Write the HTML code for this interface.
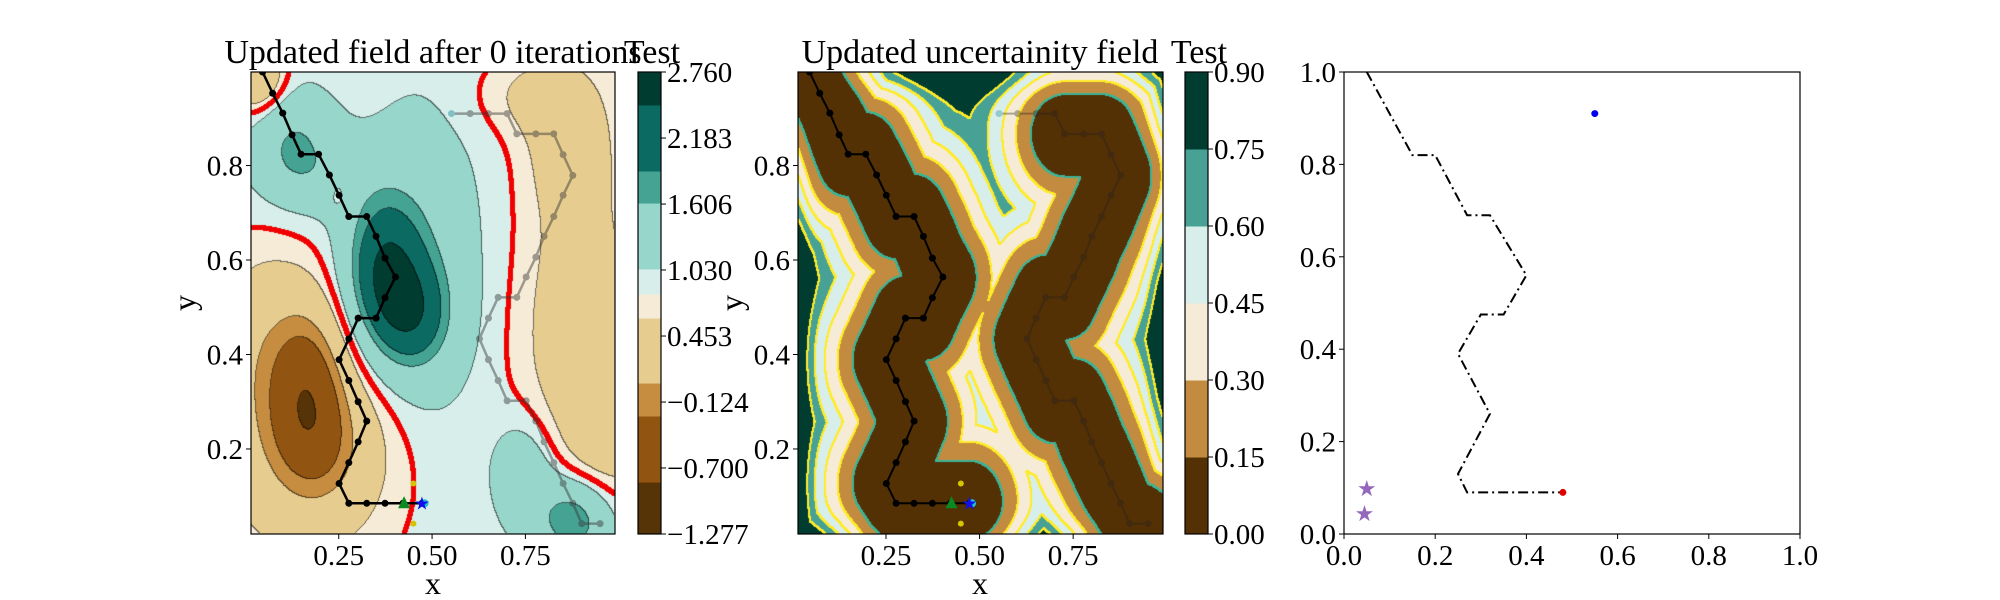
<!DOCTYPE html>
<html><head><meta charset="utf-8">
<style>
html,body{margin:0;padding:0;background:#fff;}
#wrap{position:relative;width:2000px;height:600px;overflow:hidden;font-family:"Liberation Serif",serif;}
canvas{position:absolute;}
svg{position:absolute;left:0;top:0;}
</style></head>
<body>
<div id="wrap">
<canvas id="c1" width="364" height="462" style="left:251px;top:72px"></canvas>
<canvas id="c2" width="365" height="462" style="left:798px;top:72px"></canvas>
<svg id="ov" width="2000" height="600"></svg>
</div>
<script>
// ---- data ----
const path1X=[0.046,0.073,0.100,0.125,0.149,0.196,0.225,0.251,0.277,0.325,0.350,0.374,0.402,0.374,0.350,0.302,0.277,0.251,0.277,0.302,0.325,0.302,0.277,0.251,0.277,0.325,0.374,0.422,0.473];
const path1Y=[0.998,0.953,0.911,0.865,0.824,0.824,0.780,0.737,0.692,0.692,0.650,0.604,0.564,0.520,0.477,0.477,0.433,0.389,0.345,0.300,0.259,0.215,0.171,0.127,0.085,0.085,0.085,0.085,0.085];
const path2X=[0.552,0.602,0.651,0.701,0.727,0.778,0.826,0.851,0.877,0.851,0.826,0.800,0.778,0.752,0.727,0.677,0.651,0.627,0.651,0.677,0.701,0.752,0.778,0.800,0.826,0.851,0.877,0.901,0.950];
const path2Y=[0.910,0.910,0.910,0.910,0.867,0.867,0.867,0.823,0.779,0.737,0.692,0.650,0.606,0.564,0.521,0.521,0.477,0.433,0.389,0.345,0.302,0.302,0.259,0.215,0.171,0.127,0.085,0.042,0.042];
const p3Vx=[0.05,0.15,0.20,0.27,0.32,0.40,0.35,0.30,0.25,0.32,0.25,0.27,0.48];
const p3Vy=[1.00,0.82,0.82,0.69,0.69,0.56,0.475,0.475,0.39,0.26,0.13,0.09,0.09];
const starX=[0.05,0.045];
const starY=[0.10,0.045];
const bumpX=[0.37,0.45,0.47,0.17,0.20,0.05,0.15,0.13,0.19,0.90,0.87,0.75,0.98,0.88,0.75,0.03,0.25];
const bumpY=[0.58,0.48,0.58,0.34,0.20,0.42,0.20,0.85,0.78,0.45,0.86,0.95,0.25,0.05,0.15,0.99,0.74];
const bumpA=[1.3,0.9,0.5,-0.9,-0.6,-0.5,-0.5,0.6,0.35,-0.6,-0.5,-0.3,-0.4,1.0,0.45,-0.9,-0.35];
const bumpSx=[0.07,0.07,0.10,0.07,0.10,0.10,0.20,0.07,0.10,0.12,0.09,0.10,0.08,0.07,0.06,0.05,0.018];
const bumpSy=[0.11,0.08,0.20,0.12,0.10,0.15,0.20,0.07,0.06,0.22,0.12,0.06,0.12,0.06,0.08,0.05,0.025];
const levels1=[-1.277,-0.823,-0.246,0.042,0.610,0.820,1.039,1.615,1.895,2.472,2.760];
const colors1=['#573308','#925511','#c68c3f','#e6cc8f','#f6ebd6','#d7eeea','#97d6cb','#45a394','#0b6b63','#003c30'];
const ticks1=[-1.277,-0.700,-0.124,0.453,1.030,1.606,2.183,2.760];
const levels2=[0,0.15,0.30,0.45,0.60,0.75,0.90];
const colors2=['#543005','#c28b3f','#f6ebd6','#d8eeea','#47a295','#003c30'];
const ticks2=[0,0.15,0.30,0.45,0.60,0.75,0.90];
const xt12=[0.25,0.50,0.75];
const yt12=[0.2,0.4,0.6,0.8];
const t3=[0,0.2,0.4,0.6,0.8,1.0];

const P1={x0:251,y0:72,w:364,h:462,xmin:0.015,xmax:0.99,ymin:0.02,ymax:0.998};
const P2={x0:798,y0:72,w:365,h:462,xmin:0.015,xmax:0.99,ymin:0.02,ymax:0.998};
const P3={x0:1344,y0:72,w:456,h:462,xmin:0,xmax:1,ymin:0,ymax:1};
const sx=(P,v)=>P.x0+(v-P.xmin)/(P.xmax-P.xmin)*P.w;
const sy=(P,v)=>P.y0+P.h-(v-P.ymin)/(P.ymax-P.ymin)*P.h;

function f1(x,y){let v=0.95;for(let i=0;i<bumpX.length;i++){const dx=(x-bumpX[i])/bumpSx[i],dy=(y-bumpY[i])/bumpSy[i];v+=bumpA[i]*Math.exp(-0.5*(dx*dx+dy*dy));}return v;}
function segD(px,py,ax,ay,bx,by){const vx=bx-ax,vy=by-ay;let t=((px-ax)*vx+(py-ay)*vy)/(vx*vx+vy*vy||1);t=Math.max(0,Math.min(1,t));const dx=px-ax-t*vx,dy=py-ay-t*vy;return Math.sqrt(dx*dx+dy*dy);}
function kf(d){return 1-Math.exp(-Math.pow(d/0.197,2.18));}
function f2(x,y){let d=1e9;for(let i=0;i<path1X.length-1;i++)d=Math.min(d,segD(x,y,path1X[i],path1Y[i],path1X[i+1],path1Y[i+1]));
for(let i=4;i<path2X.length-1;i++)d=Math.min(d,segD(x,y,path2X[i],path2Y[i],path2X[i+1],path2Y[i+1]));
const de=Math.max(0,Math.min(x,1-x,y,1-y));const fac=1+0.4*Math.exp(-Math.pow(de/0.05,2));
return 0.9*Math.min(1,kf(d)*fac);}
function hex(c){return [parseInt(c.slice(1,3),16),parseInt(c.slice(3,5),16),parseInt(c.slice(5,7),16)];}
function band(v,lev){let b=0;for(let i=1;i<lev.length-1;i++)if(v>=lev[i])b=i;return b;}

function render(id,P,f,lev,cols,lineCol,redLev){
 const c=document.getElementById(id),ctx=c.getContext('2d');const W=c.width,H=c.height;
 const img=ctx.createImageData(W,H);const vals=new Float32Array(W*H),bd=new Int8Array(W*H);
 for(let py=0;py<H;py++)for(let px=0;px<W;px++){const x=P.xmin+(px+0.5)/W*(P.xmax-P.xmin),y=P.ymax-(py+0.5)/H*(P.ymax-P.ymin);const v=f(x,y);vals[py*W+px]=v;bd[py*W+px]=band(v,lev);}
 const rgb=cols.map(hex);
 for(let i=0;i<W*H;i++){const k=rgb[bd[i]];img.data[i*4]=k[0];img.data[i*4+1]=k[1];img.data[i*4+2]=k[2];img.data[i*4+3]=255;}
 for(let py=0;py<H-1;py++)for(let px=0;px<W-1;px++){const i=py*W+px;const b=bd[i],br=bd[i+1],bb=bd[i+W];
  if(b!==br||b!==bb){const lv=Math.max(b,br,bb);const lc=lineCol(lv);const thick=lc[3];
   for(let oy=0;oy<thick;oy++)for(let ox=0;ox<thick;ox++){const j=(py+oy)*W+px+ox;if(py+oy>=H||px+ox>=W)continue;const a=lc[4];
    img.data[j*4]=img.data[j*4]*(1-a)+lc[0]*a;img.data[j*4+1]=img.data[j*4+1]*(1-a)+lc[1]*a;img.data[j*4+2]=img.data[j*4+2]*(1-a)+lc[2]*a;}}}
 if(redLev!==null){const s=i=>vals[i]>redLev;
  for(let py=0;py<H-1;py++)for(let px=0;px<W-1;px++){const i=py*W+px;if(s(i)!==s(i+1)||s(i)!==s(i+W)){
   for(let oy=-2;oy<=2;oy++)for(let ox=-2;ox<=2;ox++){const yy=py+oy,xx=px+ox;if(yy<0||xx<0||yy>=H||xx>=W||ox*ox+oy*oy>5)continue;const j=yy*W+xx;img.data[j*4]=240;img.data[j*4+1]=0;img.data[j*4+2]=0;}}}}
 ctx.putImageData(img,0,0);
}
render('c1',P1,f1,levels1,colors1,()=>[0,0,0,1,0.55],0.82);
render('c2',P2,f2,levels2,colors2,lv=>lv===1?[60,180,150,2,1]:[255,235,40,2,1],null);

// ---- overlay ----
const NS='http://www.w3.org/2000/svg';const ov=document.getElementById('ov');
function mk(tag,attrs,parent){const e=document.createElementNS(NS,tag);for(const k in attrs)e.setAttribute(k,attrs[k]);(parent||ov).appendChild(e);return e;}
function txt(x,y,s,size,anchor,name,rot){const e=mk('text',{x:x,y:y,'font-size':size,'text-anchor':anchor,'font-family':'Liberation Serif, serif',fill:'#000'});if(rot)e.setAttribute('transform','rotate(-90 '+x+' '+y+')');e.textContent=s;


return e;}
function fmt(v,d){return (v<0?'\u2212':'')+Math.abs(v).toFixed(d);}

function axes(P,xt,yt,xd,yd,pfx){
 const r=mk('rect',{x:P.x0,y:P.y0,width:P.w,height:P.h,fill:'none',stroke:'#000','stroke-width':1.2});
 
 
 xt.forEach(v=>{const X=sx(P,v);mk('line',{x1:X,x2:X,y1:P.y0+P.h,y2:P.y0+P.h+5,stroke:'#000'});txt(X,P.y0+P.h+31,v.toFixed(xd),29,'middle',pfx+'-x-tick-label');});
 yt.forEach(v=>{const Y=sy(P,v);mk('line',{x1:P.x0-5,x2:P.x0,y1:Y,y2:Y,stroke:'#000'});txt(P.x0-8,Y+10,v.toFixed(yd),29,'end',pfx+'-y-tick-label');});
}
function clipFor(P,id){const d=mk('clipPath',{id:id});mk('rect',{x:P.x0,y:P.y0,width:P.w,height:P.h},d);return 'url(#'+id+')';}
function drawPath(P,X,Y,col,op,lw,r,name,clip,firstCol){
 const g=mk('g',{opacity:op,'clip-path':clip});
 
 
 const pts=X.map((x,i)=>sx(P,x)+','+sy(P,Y[i])).join(' ');
 mk('polyline',{points:pts,fill:'none',stroke:col,'stroke-width':lw},g);
 X.forEach((x,i)=>{mk('circle',{cx:sx(P,x),cy:sy(P,Y[i]),r:r,fill:(i===0&&firstCol)?firstCol:col},g);});
}
const cl1=clipFor(P1,'cp1'),cl2=clipFor(P2,'cp2');
drawPath(P1,path2X,path2Y,'#333',0.45,2.5,3.5,'path-2-field',cl1,'#1a8a9a');
drawPath(P1,path1X,path1Y,'#000',1,2.5,3.5,'path-1-field',cl1);
drawPath(P2,path2X,path2Y,'#222',0.35,2,3.5,'path-2-uncertainty',cl2,'#1a8a9a');
drawPath(P2,path1X,path1Y,'#000',1,2,3.5,'path-1-uncertainty',cl2);
function markers(P,pfx){
 const yl1=mk('circle',{cx:sx(P,0.45),cy:sy(P,0.127),r:3,fill:'#d4c400'});
 
 
 const yl2=mk('circle',{cx:sx(P,0.45),cy:sy(P,0.042),r:3,fill:'#d4c400'});
 
 
 const cy=mk('circle',{cx:sx(P,0.48),cy:sy(P,0.085),r:4,fill:'#20c0d0'});
 
 
 const X=sx(P,0.425),Y=sy(P,0.085);
 const tr=mk('polygon',{points:(X-6)+','+(Y+5)+' '+(X+6)+','+(Y+5)+' '+X+','+(Y-7),fill:'#0a8a20'});
 
 
 const st=mk('text',{x:sx(P,0.473),y:sy(P,0.085)+6,'font-size':18,'text-anchor':'middle',fill:'#1010ee'});
 st.textContent='\u2605';
 
 
}
markers(P1,'field');markers(P2,'uncertainty');
axes(P1,xt12,yt12,2,1,'field');
axes(P2,xt12,yt12,2,1,'uncertainty');
axes(P3,t3,t3,1,1,'path');
txt(433,63,'Updated field after 0 iterations',34,'middle','field-title');
txt(980,63,'Updated uncertainity field',34,'middle','uncertainty-title');
txt(652,63,'Test',34,'middle','colorbar-1-title');
txt(1199,63,'Test',34,'middle','colorbar-2-title');
txt(433,594,'x',32,'middle','field-x-axis-title');
txt(980,594,'x',32,'middle','uncertainty-x-axis-title');
txt(195,303,'y',32,'middle','field-y-axis-title',true);
txt(742,303,'y',32,'middle','uncertainty-y-axis-title',true);

function colorbar(x0,lev,cols,ticks,dec,pfx){
 const y0=72,h=462,w=23;const lo=lev[0],hi=lev[lev.length-1];const Y=v=>y0+h-(v-lo)/(hi-lo)*h;
 for(let i=0;i<cols.length;i++){const r=mk('rect',{x:x0,y:Y(lev[i+1]),width:w,height:Y(lev[i])-Y(lev[i+1])+0.5,fill:cols[i]});
  
  }
 const fr=mk('rect',{x:x0,y:y0,width:w,height:h,fill:'none',stroke:'#000','stroke-width':1.2});
 
 
 ticks.forEach(v=>{const yy=Y(v);mk('line',{x1:x0+w,x2:x0+w+5,y1:yy,y2:yy,stroke:'#000'});txt(x0+w+6,yy+10,fmt(v,dec),29,'start',pfx+'-tick-label');});
}
colorbar(638,levels1,colors1,ticks1,3,'colorbar-1');
colorbar(1185,levels2,colors2,ticks2,2,'colorbar-2');

// panel 3
const pl=mk('polyline',{points:p3Vx.map((x,i)=>sx(P3,x)+','+sy(P3,p3Vy[i])).join(' '),fill:'none',stroke:'#000','stroke-width':2,'stroke-dasharray':'10,4,2,4'});


const rd=mk('circle',{cx:sx(P3,0.48),cy:sy(P3,0.09),r:3.5,fill:'#e00000'});


const bd=mk('circle',{cx:sx(P3,0.55),cy:sy(P3,0.91),r:3.5,fill:'#0000ee'});


starX.forEach((x,i)=>{const s=mk('text',{x:sx(P3,x),y:sy(P3,starY[i])+8,'font-size':22,'text-anchor':'middle',fill:'#9467bd'});s.textContent='\u2605';
 
 });
</script>
</body></html>
